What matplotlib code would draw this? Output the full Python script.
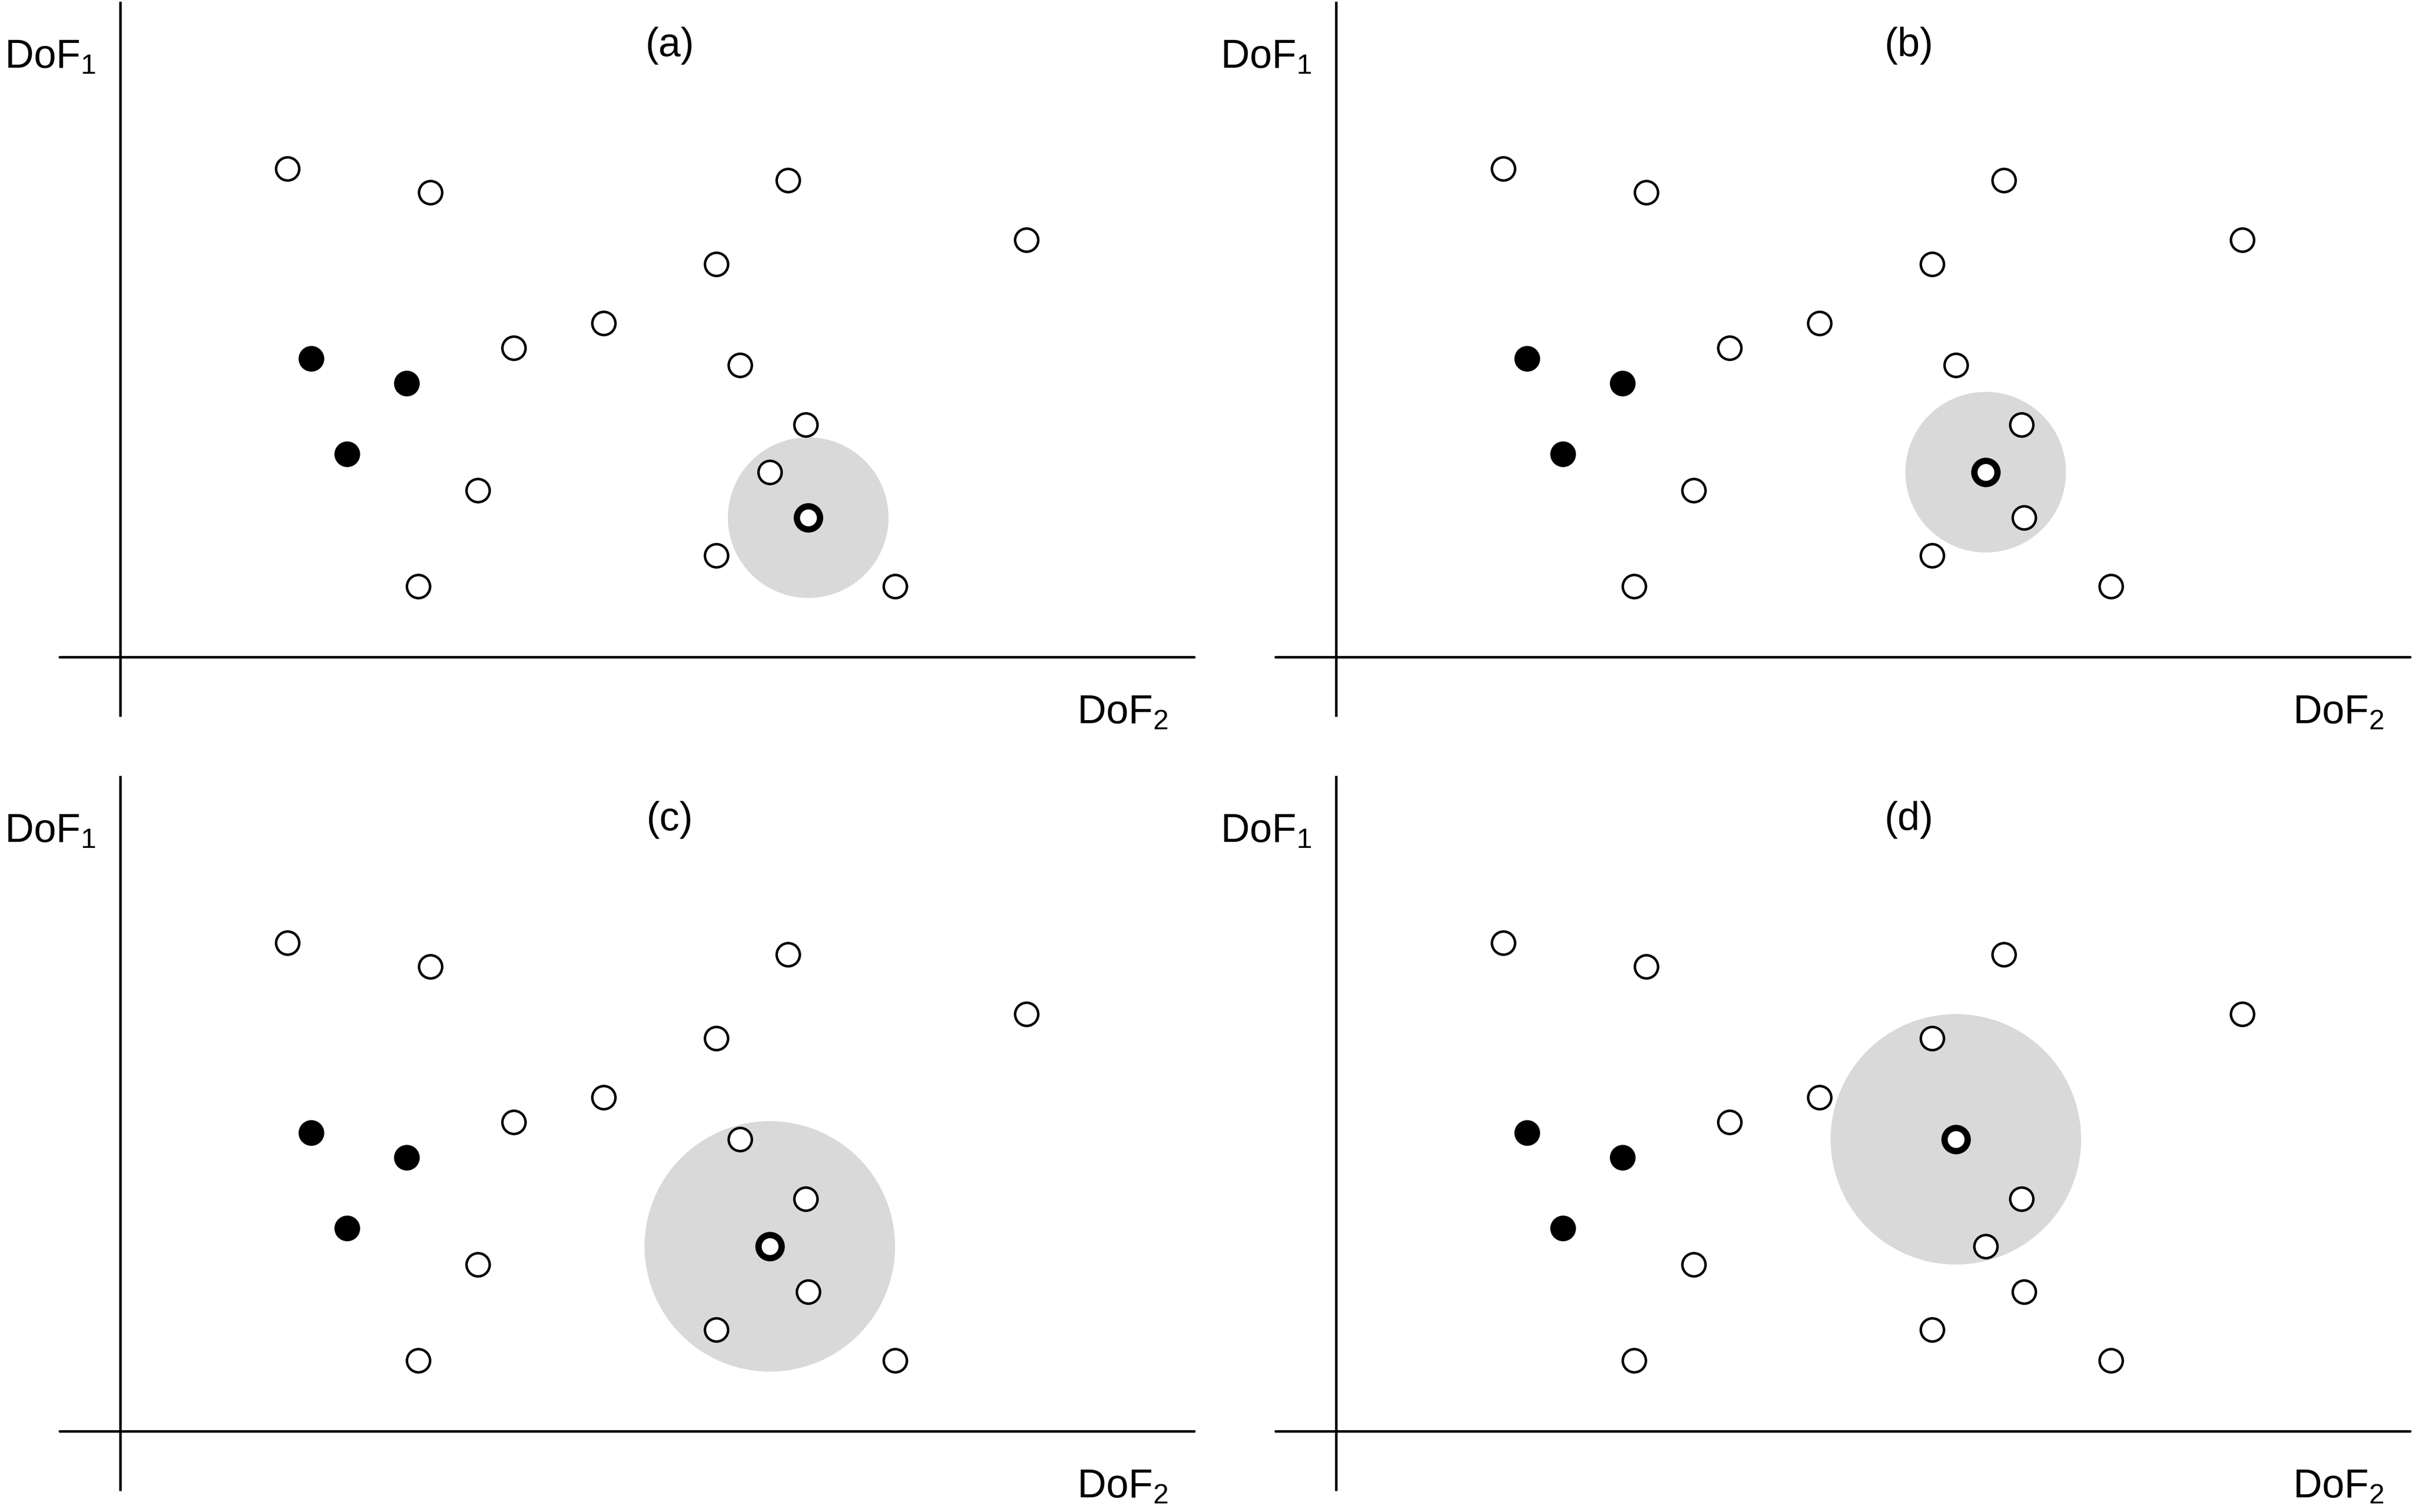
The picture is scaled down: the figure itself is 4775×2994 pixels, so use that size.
import matplotlib
matplotlib.use("Agg")
import matplotlib.pyplot as plt
from matplotlib.patches import Circle

plt.rcParams['font.family'] = ['Liberation Sans', 'DejaVu Sans']
plt.rcParams['mathtext.default'] = 'regular'

# Data (units: reference pixels relative to axis origin)
open_x = [331, 614, 1322, 1794, 1180, 957, 779, 1227, 1357, 1286, 708, 590, 1180, 1534, 1362]
open_y = [967, 920, 944, 826, 778, 661, 612, 578, 460, 366, 330, 140, 201, 140, 276]
filled_x = [378, 567, 449]
filled_y = [591, 542, 402]

panel_titles = ['(a)', '(b)', '(c)', '(d)']
highlight_idx = [14, 9, 9, 7]
neigh_radius = [159, 159, 248, 248]

W, H = 4775, 2994
DPI = 300
fig = plt.figure(figsize=(W / DPI, H / DPI), dpi=DPI)

origins = [(238, 1301), (2645, 1301), (238, 2834), (2645, 2834)]
title_x = [1087, 1134, 1087, 1134]
XL, XR, YB, YT = -240, 2140, -160, 1300

lw_axis = 1.2
ms = 11.0
fs = 19

for k, (ox, oy) in enumerate(origins):
    left = (ox + XL) / W
    bottom = (H - (oy - YB)) / H
    ax = fig.add_axes([left, bottom, (XR - XL) / W, (YT - YB) / H])
    ax.set_xlim(XL, XR)
    ax.set_ylim(YB, YT)
    ax.axis('off')

    # axes lines
    ax.plot([-120, 2126], [0, 0], color='black', lw=lw_axis,
            solid_capstyle='round', clip_on=False, zorder=1)
    ax.plot([0, 0], [-118, 1298], color='black', lw=lw_axis,
            solid_capstyle='butt', clip_on=False, zorder=1)

    hi = highlight_idx[k]
    hx, hy = open_x[hi], open_y[hi]
    ax.add_patch(Circle((hx, hy), neigh_radius[k], facecolor='#d9d9d9',
                        edgecolor='none', zorder=2))

    ox_list = [x for i, x in enumerate(open_x) if i != hi]
    oy_list = [y for i, y in enumerate(open_y) if i != hi]
    ax.plot(ox_list, oy_list, 'o', ms=ms, mfc='white', mec='black', mew=1.2,
            ls='none', zorder=3, clip_on=False)
    ax.plot(filled_x, filled_y, 'o', ms=ms, mfc='black', mec='black', mew=1.2,
            ls='none', zorder=3, clip_on=False)
    ax.plot([hx], [hy], 'o', ms=ms, mfc='white', mec='black', mew=3.0,
            ls='none', zorder=4, clip_on=False)

    ax.text(-229, 1167, 'DoF$_1$', fontsize=fs, ha='left', va='baseline',
            clip_on=False)
    ax.text(1894, -131, 'DoF$_2$', fontsize=fs, ha='left', va='baseline',
            clip_on=False)
    ax.text(title_x[k], 1190, panel_titles[k], fontsize=fs, ha='center',
            va='baseline', clip_on=False)

fig.savefig('out.png', dpi=DPI, facecolor='white')
